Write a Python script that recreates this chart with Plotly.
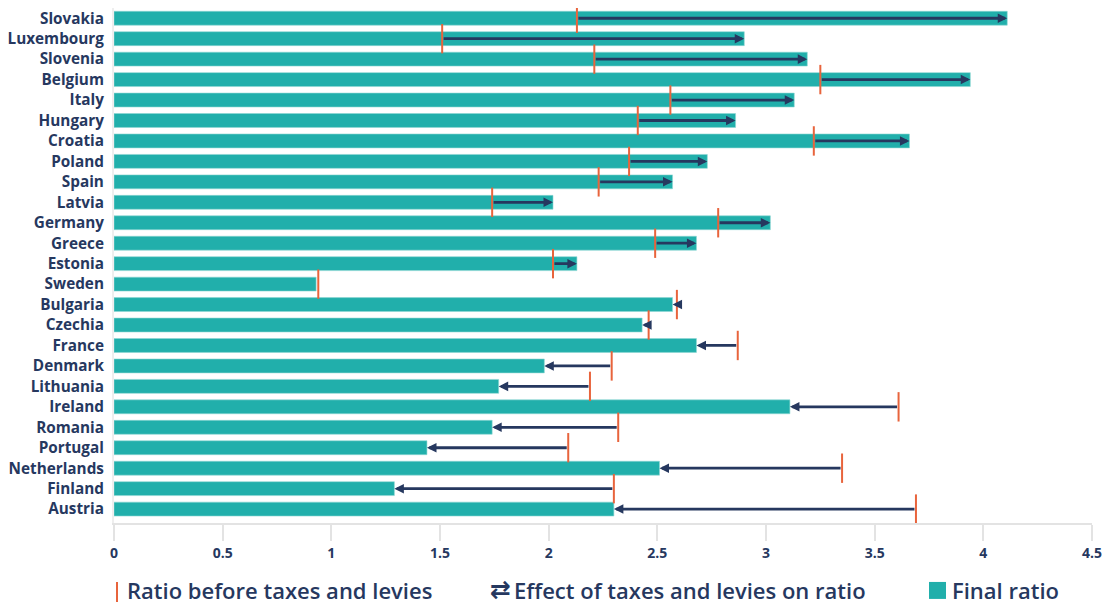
import plotly.graph_objects as go

countries = ["Slovakia", "Luxembourg", "Slovenia", "Belgium", "Italy", "Hungary", "Croatia",
             "Poland", "Spain", "Latvia", "Germany", "Greece", "Estonia", "Sweden", "Bulgaria",
             "Czechia", "France", "Denmark", "Lithuania", "Ireland", "Romania", "Portugal",
             "Netherlands", "Finland", "Austria"]
ratio_before = [2.13, 1.51, 2.21, 3.25, 2.56, 2.41, 3.22, 2.37, 2.23, 1.74, 2.78, 2.49, 2.02,
                0.94, 2.59, 2.46, 2.87, 2.29, 2.19, 3.61, 2.32, 2.09, 3.35, 2.30, 3.69]
final_ratio = [4.11, 2.90, 3.19, 3.94, 3.13, 2.86, 3.66, 2.73, 2.57, 2.02, 3.02, 2.68, 2.13,
               0.93, 2.57, 2.43, 2.68, 1.98, 1.77, 3.11, 1.74, 1.44, 2.51, 1.29, 2.30]
x_ticks = [0, 0.5, 1, 1.5, 2, 2.5, 3, 3.5, 4, 4.5]
x_tick_labels = ["0", "0.5", "1", "1.5", "2", "2.5", "3", "3.5", "4", "4.5"]
legend_labels = ["Ratio before taxes and levies", "Effect of taxes and levies on ratio", "Final ratio"]

TEAL = "#21AFAB"
NAVY = "#26385F"
RED = "#E8643C"
GRID = "#E3E3E3"
FONT = "Open Sans"
LEG_FONT = "Open Sans"
LEG_SIZE = 22

fig = go.Figure()
fig.add_trace(go.Bar(
    y=countries, x=final_ratio, orientation="h", width=0.68,
    marker=dict(color=TEAL, line=dict(color="#8ED6D3", width=0.6)),
    name=legend_labels[2], showlegend=False, hoverinfo="x+y",
))

# arrows from ratio before -> final ratio
for c, b, f in zip(countries, ratio_before, final_ratio):
    fig.add_annotation(
        x=f, y=c, ax=b, ay=c, xref="x", yref="y", axref="x", ayref="y",
        text="", showarrow=True, arrowhead=2, arrowsize=0.68, arrowwidth=2.8,
        arrowcolor=NAVY, standoff=0, startstandoff=0,
    )

fig.add_trace(go.Scatter(
    y=countries, x=ratio_before, mode="markers",
    marker=dict(symbol="line-ns", size=21, line=dict(color=RED, width=2)),
    name=legend_labels[0], showlegend=False, hoverinfo="x+y",
))

# legend (bottom) as annotations and shapes
px0, pw = 114, 978
def xp(px):
    return (px - px0) / pw
ph = 515.5
def yp(py):
    return (523 - py) / ph

fig.add_shape(type="line", xref="paper", yref="paper", x0=xp(117), x1=xp(117),
              y0=yp(582), y1=yp(602), line=dict(color=RED, width=2))
fig.add_annotation(xref="paper", yref="paper", x=xp(125), y=yp(590), xanchor="left",
                   yanchor="middle", text=legend_labels[0], showarrow=False,
                   font=dict(family=LEG_FONT, size=LEG_SIZE, color=NAVY, weight=600))
fig.add_annotation(xref="paper", yref="paper", x=xp(500), y=yp(590), xanchor="center",
                   yanchor="middle", text="⇄", showarrow=False,
                   font=dict(family="DejaVu Sans", size=25, color=NAVY, weight=700))
fig.add_annotation(xref="paper", yref="paper", x=xp(512), y=yp(590), xanchor="left",
                   yanchor="middle", text=legend_labels[1], showarrow=False,
                   font=dict(family=LEG_FONT, size=LEG_SIZE, color=NAVY, weight=600))
fig.add_shape(type="rect", xref="paper", yref="paper", x0=xp(929), x1=xp(946),
              y0=yp(599), y1=yp(582), fillcolor=TEAL, line=dict(width=0))
fig.add_annotation(xref="paper", yref="paper", x=xp(950), y=yp(590), xanchor="left",
                   yanchor="middle", text=legend_labels[2], showarrow=False,
                   font=dict(family=LEG_FONT, size=LEG_SIZE, color=NAVY, weight=600))

fig.update_layout(
    width=1105, height=606,
    margin=dict(l=114, r=13, t=7.5, b=83, autoexpand=False),
    plot_bgcolor="white", paper_bgcolor="white",
    showlegend=False,
    font=dict(family=FONT, color=NAVY),
    xaxis=dict(range=[0, 4.5], tickvals=x_ticks, ticktext=x_tick_labels,
               showgrid=False, zeroline=False, showline=True, linecolor=GRID, linewidth=2,
               ticks="outside", ticklen=16, tickwidth=2, tickcolor=GRID, automargin=False,
               tickfont=dict(family=FONT, size=14, color=NAVY, weight=700)),
    yaxis=dict(type="category", range=[24.68, -0.5], showgrid=False, zeroline=False,
               showline=True, linecolor="#EEEEEE", linewidth=2, ticks="",
               ticklabelstandoff=5, automargin=False,
               tickfont=dict(family=FONT, size=15.3, color=NAVY, weight=700)),
)
fig.write_html("out.html", config={"displayModeBar": False},
               post_script="document.body.style.margin='0px';document.body.style.overflow='hidden';")
